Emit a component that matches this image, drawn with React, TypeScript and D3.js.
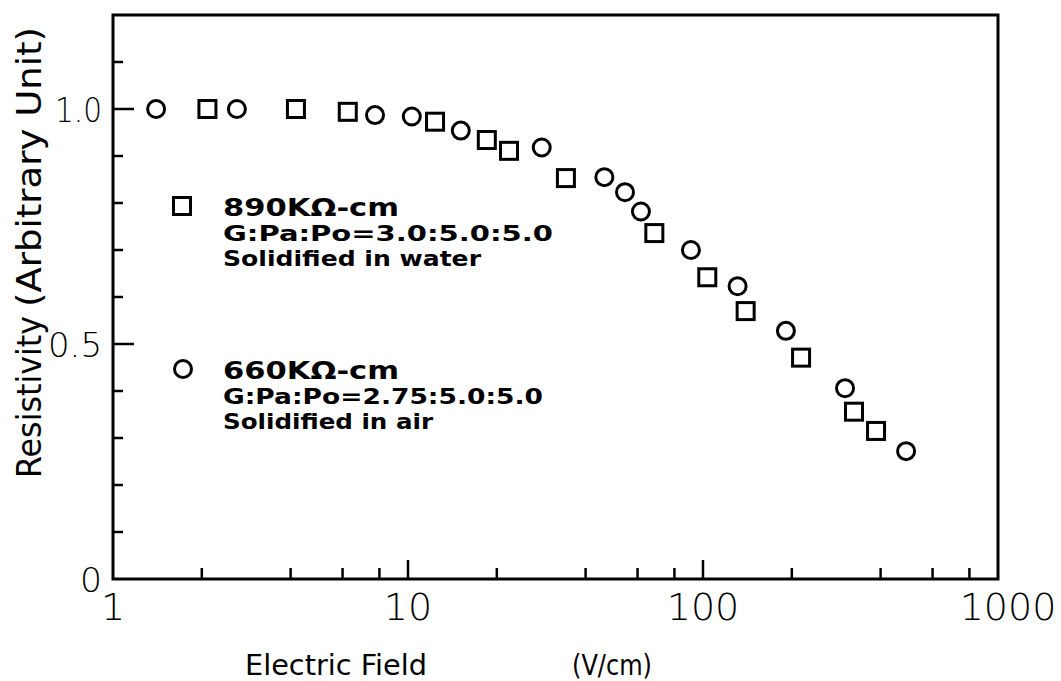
import React from 'react'
import * as d3 from 'd3'

// electric field (V/cm) and normalized resistivity
const squareField = [2.09, 4.17, 6.25, 12.35, 18.5, 22.0, 34.3, 68.4, 103.4, 139.5, 215, 325, 386]
const squareRes = [1.0, 1.0, 0.994, 0.973, 0.934, 0.911, 0.853, 0.736, 0.642, 0.57, 0.471, 0.356, 0.315]
const circleField = [1.4, 2.63, 7.73, 10.3, 15.1, 28.4, 46.3, 54.4, 61.6, 91.0, 131, 191, 303, 488]
const circleRes = [1.0, 1.0, 0.987, 0.984, 0.954, 0.918, 0.855, 0.823, 0.782, 0.7, 0.623, 0.528, 0.406, 0.272]

const xTickLabels = [1, 10, 100, 1000]
const xMinorTicks = [2, 4, 6, 8, 20, 40, 60, 80, 200, 400, 600, 800]
const xMajorTicks = [10, 100]
const yTickLabels = [0, 0.5, 1.0]
const yMinorTicks = [0.1, 0.2, 0.3, 0.4, 0.6, 0.7, 0.8, 0.9, 1.1]
const yMajorTicks = [0.5, 1.0]

const squareLegend = ['890KΩ-cm', 'G:Pa:Po=3.0:5.0:5.0', 'Solidified in water']
const circleLegend = ['660KΩ-cm', 'G:Pa:Po=2.75:5.0:5.0', 'Solidified in air']

const W = 1061
const H = 681
const x = d3.scaleLog().domain([1, 1000]).range([113, 998])
const y = d3.scaleLinear().domain([0, 1.2]).range([579, 15])

const tickFont = '"DejaVu Sans", sans-serif'
const legendFont = '"DejaVu Sans", sans-serif'

function Square({ cx, cy }: { cx: number; cy: number }) {
  return <rect x={cx - 8.5} y={cy - 8.5} width={17} height={17} fill="none" stroke="#000" strokeWidth={3} />
}

function Circle({ cx, cy }: { cx: number; cy: number }) {
  return <circle cx={cx} cy={cy} r={8.5} fill="none" stroke="#000" strokeWidth={3} />
}

// widths of the three legend lines, as measured on the original
function Legend({ lines, top, marker, widths }: { lines: string[]; top: number; marker: string; widths: number[] }) {
  return (
    <g fontFamily={legendFont} fontWeight="bold" fill="#000">
      {marker === 'square' ? <Square cx={182} cy={top - 10} /> : <Circle cx={183} cy={top - 10} />}
      <text x={223} y={top} fontSize={25} textLength={widths[0]} lengthAdjust="spacingAndGlyphs">{lines[0]}</text>
      <text x={223} y={top + 25} fontSize={21} textLength={widths[1]} lengthAdjust="spacingAndGlyphs">{lines[1]}</text>
      <text x={223} y={top + 50} fontSize={21} textLength={widths[2]} lengthAdjust="spacingAndGlyphs">{lines[2]}</text>
    </g>
  )
}

export default function App() {
  const [x0, x1] = x.range()
  const [y0, y1] = y.range()
  const yLabelWidth = (t: number) => (t === 0 ? 22 : t === 1 ? 47 : 54)
  return (
    <div style={{ position: 'absolute', left: 0, top: 0 }}>
      <svg width={W} height={H} style={{ display: 'block', background: '#fff' }}>
        {/* frame */}
        <rect x={x0} y={y1} width={x1 - x0} height={y0 - y1} fill="none" stroke="#000" strokeWidth={3} />

        {/* y ticks */}
        {yMinorTicks.map(t => (
          <line key={'ym' + t} x1={x0} x2={x0 + 10} y1={y(t)} y2={y(t)} stroke="#000" strokeWidth={2.5} />
        ))}
        {yMajorTicks.map(t => (
          <line key={'yM' + t} x1={x0} x2={x0 + 21} y1={y(t)} y2={y(t)} stroke="#000" strokeWidth={2.5} />
        ))}
        {yTickLabels.map(t => (
          <text key={'yl' + t} x={x0 - 11} y={y(t) + 1} dy="0.36em" textAnchor="end" fontSize={33} fontFamily={tickFont} fontWeight={300}
            textLength={yLabelWidth(t)} lengthAdjust="spacingAndGlyphs">
            {t === 0 ? '0' : d3.format('.1f')(t)}
          </text>
        ))}

        {/* x ticks */}
        {xMinorTicks.map(t => (
          <line key={'xm' + t} x1={x(t)} x2={x(t)} y1={y0} y2={y0 - 11} stroke="#000" strokeWidth={2.5} />
        ))}
        {xMajorTicks.map(t => (
          <line key={'xM' + t} x1={x(t)} x2={x(t)} y1={y0} y2={y0 - 19} stroke="#000" strokeWidth={2.5} />
        ))}
        {xTickLabels.map(t => (
          <text key={'xl' + t} x={x(t) + (t === 1000 ? 10 : 0)} y={y0 + 41} textAnchor="middle" fontSize={38} fontFamily={tickFont} fontWeight={300}>
            {t}
          </text>
        ))}

        {/* axis titles */}
        <text x={245} y={675} fontSize={28} fontFamily={tickFont} textLength={182} lengthAdjust="spacingAndGlyphs">Electric Field</text>
        <text x={572} y={675} fontSize={28} fontFamily={tickFont} textLength={80} lengthAdjust="spacingAndGlyphs">(V/cm)</text>
        <g transform="translate(41,0) rotate(-90)" fontFamily={tickFont} fontSize={33}>
          <text x={-478} y={0} textLength={162} lengthAdjust="spacingAndGlyphs">Resistivity</text>
          <text x={-307} y={0} textLength={280} lengthAdjust="spacingAndGlyphs">(Arbitrary Unit)</text>
        </g>

        {/* data */}
        {squareField.map((f, i) => (
          <Square key={'s' + i} cx={x(f)} cy={y(squareRes[i])} />
        ))}
        {circleField.map((f, i) => (
          <Circle key={'c' + i} cx={x(f)} cy={y(circleRes[i])} />
        ))}

        <Legend lines={squareLegend} top={216} marker="square" widths={[176, 330, 258]} />
        <Legend lines={circleLegend} top={379} marker="circle" widths={[176, 320, 210]} />
      </svg>
    </div>
  )
}
